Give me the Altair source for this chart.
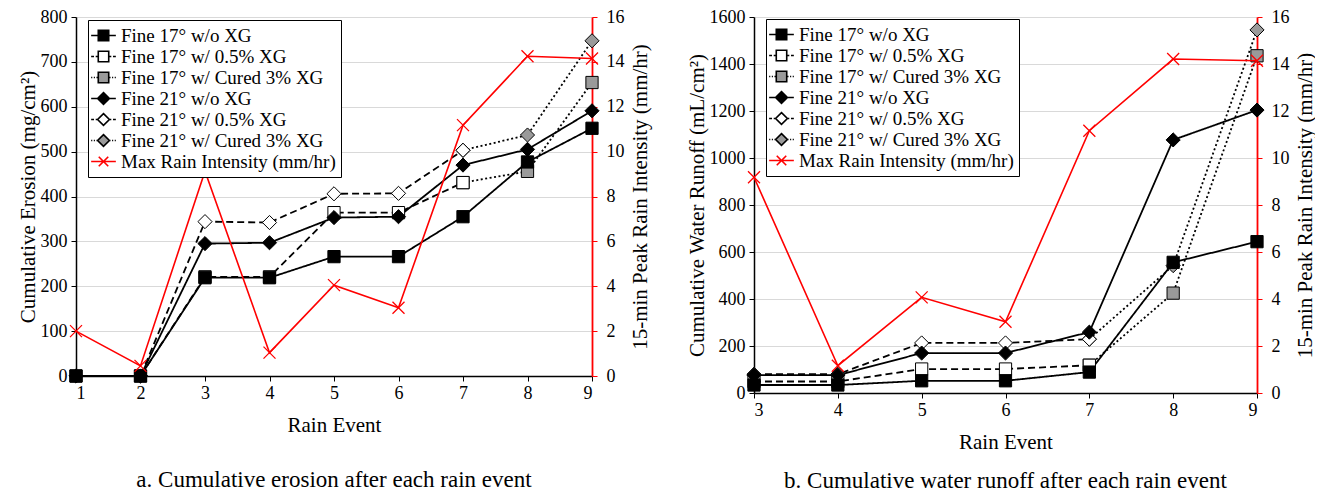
import altair as alt
import pandas as pd

FONT = "Liberation Serif"

SERIES = ["Fine 17° w/o XG", "Fine 17° w/ 0.5% XG", "Fine 17° w/ Cured 3% XG",
          "Fine 21° w/o XG", "Fine 21° w/ 0.5% XG", "Fine 21° w/ Cured 3% XG"]
RAIN = "Max Rain Intensity (mm/hr)"

# ---- Panel a: cumulative erosion (mg/cm2) ----
events_a = [1, 2, 3, 4, 5, 6, 7, 8, 9]
ero_17_none = [0, 0, 219, 219, 266, 266, 355, 477, 552]
ero_17_05 = [0, 0, 221, 221, 364, 364, 431, None, None]
ero_17_cured = [None, None, None, None, None, None, 431, 456, 654]
ero_21_none = [0, 0, 295, 297, 353, 355, 470, 505, 591]
ero_21_05 = [0, 0, 344, 342, 406, 407, 503, None, None]
ero_21_cured = [None, None, None, None, None, None, 503, 537, 747]
rain_a = [2.0, 0.45, 9.13, 1.04, 4.05, 3.04, 11.18, 14.25, 14.15]

# ---- Panel b: cumulative water runoff (mL/cm2) ----
events_b = [3, 4, 5, 6, 7, 8, 9]
run_17_none = [34, 34, 52, 52, 89, 556, 644]
run_17_05 = [49, 49, 102, 102, 118, None, None]
run_17_cured = [None, None, None, None, 118, 425, 1435]
run_21_none = [76, 76, 170, 170, 259, 1077, 1204]
run_21_05 = [80, 80, 213, 213, 229, None, None]
run_21_cured = [None, None, None, None, 229, 542, 1545]
rain_b = [9.18, 1.16, 4.07, 3.03, 11.16, 14.21, 14.14]

GRAY = "#9a9a9a"
STYLE = {
    SERIES[0]: dict(dash=[1, 0], shape="square", fill="black"),
    SERIES[1]: dict(dash=[7, 4], shape="square", fill="white"),
    SERIES[2]: dict(dash=[2, 2.5], shape="square", fill=GRAY),
    SERIES[3]: dict(dash=[1, 0], shape="diamond", fill="black"),
    SERIES[4]: dict(dash=[7, 4], shape="diamond", fill="white"),
    SERIES[5]: dict(dash=[2, 2.5], shape="diamond", fill=GRAY),
}
DRAW_ORDER = [SERIES[2], SERIES[5], SERIES[1], SERIES[4], SERIES[0], SERIES[3]]
XPATH = "M-1,-1L1,1M1,-1L-1,1"

# legend symbols: leader line + marker drawn in a [-1,1] box (line runs a bit wider)
SOLID = "M-1.3,0H-0.5M0.5,0H1.3"
DASHED = "M-1.3,0H-1M-0.82,0H-0.52M0.52,0H0.82M1,0H1.3"
DOTTED = "M-1.3,0H-1.18M-1.02,0H-0.9M-0.74,0H-0.62M0.62,0H0.74M0.9,0H1.02M1.18,0H1.3"
SQ = "M-0.55,-0.55H0.55V0.55H-0.55Z"
DI = "M0,-0.62L0.62,0L0,0.62L-0.62,0Z"
LEG_SHAPES = [SOLID + SQ, DASHED + SQ, DOTTED + SQ, SOLID + DI, DASHED + DI, DOTTED + DI,
              "M-1.3,0H1.3M-0.5,-0.5L0.5,0.5M0.5,-0.5L-0.5,0.5"]
LEG_FILL = ["black", "white", GRAY, "black", "white", GRAY, "transparent"]
LEG_STROKE = ["black"] * 6 + ["red"]
ALL = SERIES + [RAIN]

AXIS_TXT = dict(labelFont=FONT, titleFont=FONT, labelFontSize=18, titleFontSize=21,
                labelColor="black", titleColor="black", titleFontWeight="normal")


def panel(events, cols, rain, ymax, ystep, ytitle, w, h, caption, cap_off, legy):
    rows = []
    for s, vals in zip(SERIES, cols):
        for e, v in zip(events, vals):
            if v is not None:
                rows.append({"series": s, "event": e, "value": v})
    df = pd.DataFrame(rows)
    rdf = pd.DataFrame({"event": events, "rain": rain, "series": RAIN})
    ldf = pd.DataFrame({"series": ALL, "event": events[0], "value": 0})

    x = alt.X("event:Q",
              scale=alt.Scale(domain=[events[0], events[-1]], nice=False, zero=False),
              axis=alt.Axis(values=events, format="d", title="Rain Event", grid=False,
                            domainColor="black", tickColor="black", domainWidth=1.5,
                            tickSize=5, labelPadding=3, titlePadding=12, **AXIS_TXT))
    y = alt.Y("value:Q", scale=alt.Scale(domain=[0, ymax], nice=False),
              axis=alt.Axis(values=list(range(0, ymax + 1, ystep)), format="d",
                            title=ytitle, orient="left",
                            grid=True, gridColor="#d9d9d9", gridWidth=1.2,
                            domainColor="black", tickColor="black", domainWidth=1.5,
                            tickSize=5, labelPadding=4, titlePadding=2, **AXIS_TXT))

    layers = []
    for s in DRAW_ORDER:
        st = STYLE[s]
        layers.append(alt.Chart(df).transform_filter(alt.datum.series == s)
                      .mark_line(color="black", strokeWidth=1.8, strokeDash=st["dash"])
                      .encode(x=x, y=y))
    for s in DRAW_ORDER:
        st = STYLE[s]
        size = 150 if st["shape"] == "square" else 200
        layers.append(alt.Chart(df).transform_filter(alt.datum.series == s)
                      .mark_point(shape=st["shape"], size=size, filled=True, fill=st["fill"],
                                  stroke="black", strokeWidth=1, opacity=1)
                      .encode(x=x, y=y))
    leg = alt.Legend(title=None, orient="none", legendX=12, legendY=legy, padding=5,
                     strokeColor="black", fillColor="white", labelFont=FONT,
                     labelFontSize=19, labelColor="black", symbolSize=361,
                     symbolStrokeWidth=1.6, symbolOpacity=1, rowPadding=-2,
                     labelOffset=7, labelLimit=500)
    layers.append(alt.Chart(ldf).mark_point(opacity=0).encode(
        x=x, y=y,
        shape=alt.Shape("series:N", scale=alt.Scale(domain=ALL, range=LEG_SHAPES), legend=leg),
        fill=alt.Fill("series:N", scale=alt.Scale(domain=ALL, range=LEG_FILL), legend=leg),
        stroke=alt.Stroke("series:N", scale=alt.Scale(domain=ALL, range=LEG_STROKE), legend=leg),
    ))
    left = alt.layer(*layers)

    yr = alt.Y("rain:Q", scale=alt.Scale(domain=[0, 16], nice=False),
               axis=alt.Axis(values=list(range(0, 17, 2)), orient="right",
                             title="15-min Peak Rain Intensity (mm/hr)", titleAngle=270,
                             titleBaseline="top",
                             grid=False, domainColor="red", tickColor="red", domainWidth=1.8,
                             tickSize=5, labelPadding=9, titlePadding=5, **AXIS_TXT))
    rline = alt.Chart(rdf).mark_line(color="red", strokeWidth=1.6).encode(x=x, y=yr)
    rpts = alt.Chart(rdf).mark_point(shape=XPATH, size=144, stroke="red", strokeWidth=1.3,
                                     filled=False, opacity=1).encode(x=x, y=yr)
    right = alt.layer(rline, rpts)

    return (alt.layer(left, right)
            .resolve_scale(y="independent")
            .properties(width=w, height=h,
                        title=alt.Title(caption, orient="bottom", frame="group",
                                        anchor="middle", fontSize=23, font=FONT,
                                        fontWeight="normal", offset=cap_off, color="black")))


pa = panel(events_a, [ero_17_none, ero_17_05, ero_17_cured, ero_21_none, ero_21_05, ero_21_cured],
           rain_a, 800, 100, "Cumulative Erosion (mg/cm²)", 516, 359,
           "a. Cumulative erosion after each rain event", 34, 3)
pb = panel(events_b, [run_17_none, run_17_05, run_17_cured, run_21_none, run_21_05, run_21_cured],
           rain_b, 1600, 200, "Cumulative Water Runoff (mL/cm²)", 503, 376,
           "b. Cumulative water runoff after each rain event", 18, 2)

chart = (alt.hconcat(pa, pb, spacing=36)
         .resolve_scale(shape="independent", fill="independent", stroke="independent")
         .resolve_legend(shape="independent", fill="independent", stroke="independent")
         .properties(padding={"left": 9, "top": 0, "right": 0, "bottom": 0})
         .configure_view(stroke=None)
         .configure_axis(**AXIS_TXT))

chart.save("out.html", embed_options={"renderer": "svg", "actions": False})
